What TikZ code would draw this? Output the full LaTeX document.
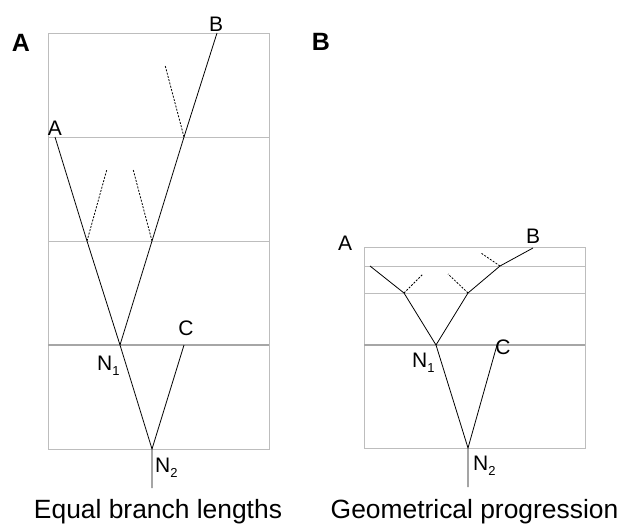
\documentclass[tikz,border=0pt]{standalone}
\usepackage{fontspec}
\setmainfont{Liberation Sans}
\usetikzlibrary{positioning,calc}
\definecolor{gridgrey}{HTML}{BDBDBD}
\newcommand{\nsub}[1]{N\raisebox{-5pt}{\fontsize{13}{13}\selectfont #1}}

\begin{document}
\begin{tikzpicture}[x=1pt, y=-1pt,
    every node/.style={inner sep=0pt},
    frame/.style={draw=gridgrey, line width=0.9pt},
    level/.style={draw=gridgrey, line width=0.9pt},
    rootlevel/.style={draw=black!35, line width=1.6pt},
    branch/.style={draw=black, line width=0.8pt},
    hidden/.style={draw=black, line width=0.8pt, dash pattern=on 2pt off 1.4pt},
    tip/.style={font=\fontsize{21}{21}\selectfont, anchor=base},
    inner/.style={font=\fontsize{21}{21}\selectfont, anchor=base west},
    panel/.style={font=\fontsize{25}{25}\selectfont\bfseries},
    caption/.style={font=\fontsize{26.4}{26.4}\selectfont, anchor=base}]
  \useasboundingbox (0,0) rectangle (620,524);

  % panel A: equal branch lengths
  \draw[frame] (48,33) rectangle (269,449);
  \draw[level] (48,137) -- (269,137);
  \draw[level] (48,241) -- (269,241);
  \draw[rootlevel] (48,345) -- (269,345);
  \coordinate (a-A) at (55,137);
  \coordinate (a-B) at (217,33);
  \coordinate (a-C) at (184,345);
  \coordinate (a-n1) at (120,345);
  \coordinate (a-n2) at (152,449);
  \coordinate (a-root) at (152,488);
  \coordinate (a-x1) at (87,241);
  \coordinate (a-x2) at (152,241);
  \coordinate (a-x3) at (184,137);
  \coordinate (a-d1) at (107,169);
  \coordinate (a-d2) at (133,169);
  \coordinate (a-d3) at (165,65);
  \draw[branch] (a-A) -- (a-x1) -- (a-n1) -- (a-n2) -- (a-root);
  \draw[branch] (a-n1) -- (a-x2) -- (a-x3) -- (a-B);
  \draw[branch] (a-C) -- (a-n2);
  \draw[hidden] (a-x1) -- (a-d1);
  \draw[hidden] (a-x2) -- (a-d2);
  \draw[hidden] (a-x3) -- (a-d3);
  \node[tip] (a-labA) at (55,135) {A};
  \node[tip] (a-labB) at (216,32) {B};
  \node[tip] (a-labC) at (186,335) {C};
  \node[inner] (a-labN1) at (97,370) {\nsub{1}};
  \node[inner] (a-labN2) at (155,472) {\nsub{2}};
  \node[panel] (a-panel) at (21,43) {A};
  \node[caption] (a-cap) at (158,518) {Equal branch lengths};

  % panel B: geometrical progression
  \draw[frame] (364,247) rectangle (585,448);
  \draw[level] (364,266) -- (585,266);
  \draw[level] (364,293) -- (585,293);
  \draw[rootlevel] (364,345) -- (585,345);
  \coordinate (b-A) at (370,266);
  \coordinate (b-B) at (533,248);
  \coordinate (b-C) at (497,345);
  \coordinate (b-n1) at (436,345);
  \coordinate (b-n2) at (468,448);
  \coordinate (b-root) at (468,487);
  \coordinate (b-x1) at (404,293);
  \coordinate (b-x2) at (468,293);
  \coordinate (b-x3) at (500,266);
  \coordinate (b-d1) at (423,274);
  \coordinate (b-d2) at (448,274);
  \coordinate (b-d3) at (481,253);
  \draw[branch] (b-A) -- (b-x1) -- (b-n1) -- (b-n2) -- (b-root);
  \draw[branch] (b-n1) -- (b-x2) -- (b-x3) -- (b-B);
  \draw[branch] (b-C) -- (b-n2);
  \draw[hidden] (b-x1) -- (b-d1);
  \draw[hidden] (b-x2) -- (b-d2);
  \draw[hidden] (b-x3) -- (b-d3);
  \node[tip] (b-labA) at (345,250) {A};
  \node[tip] (b-labB) at (533,243) {B};
  \node[tip] (b-labC) at (503,354) {C};
  \node[inner] (b-labN1) at (412,367) {\nsub{1}};
  \node[inner] (b-labN2) at (473,470) {\nsub{2}};
  \node[panel] (b-panel) at (321,42) {B};
  \node[caption] (b-cap) at (474.5,518) {Geometrical progression};
\end{tikzpicture}
\end{document}
